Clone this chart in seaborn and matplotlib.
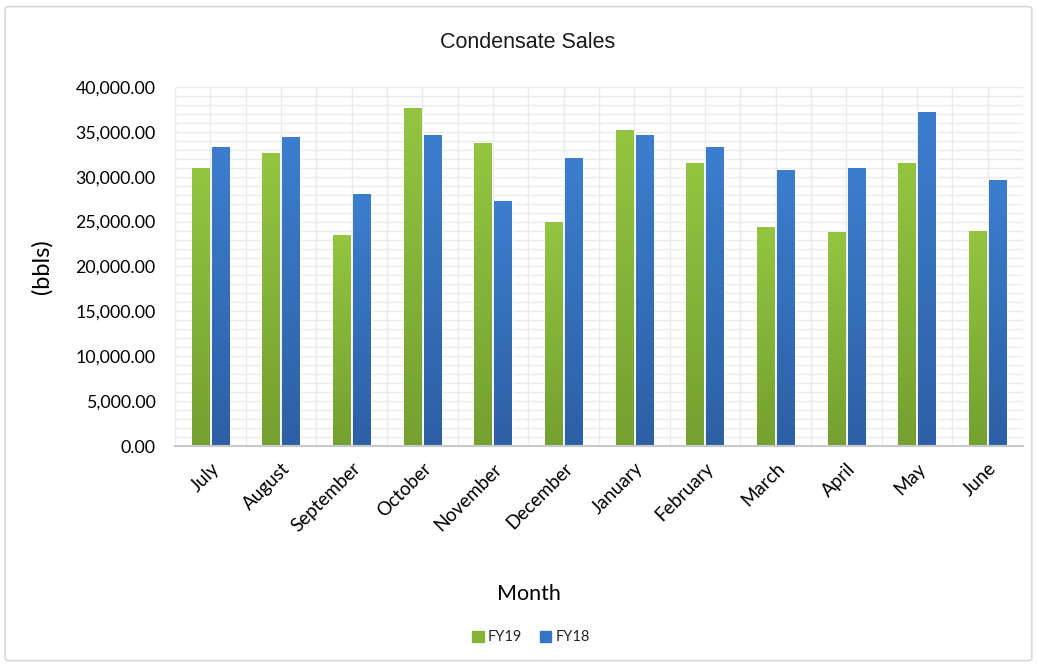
import numpy as np
import pandas as pd
import matplotlib
matplotlib.use("Agg")
import matplotlib.pyplot as plt
from matplotlib.patches import FancyBboxPatch
from matplotlib.ticker import MultipleLocator, FuncFormatter
from matplotlib.colors import LinearSegmentedColormap
import seaborn as sns

months = ["July", "August", "September", "October", "November", "December",
          "January", "February", "March", "April", "May", "June"]
fy19 = [30980, 32650, 23560, 37680, 33740, 24980,
        35250, 31570, 24440, 23810, 31490, 23920]
fy18 = [33330, 34430, 28080, 34650, 27350, 32070,
        34600, 33280, 30750, 30940, 37180, 29640]
series = ["FY19", "FY18"]
colors = {"FY19": "#86B53A", "FY18": "#3674C5"}
shades = {"FY19": ("#93C541", "#74A030"), "FY18": ("#3C7ECE", "#2D60A4")}

df = pd.DataFrame({
    "Month": months * 2,
    "Sales": fy19 + fy18,
    "Series": ["FY19"] * len(months) + ["FY18"] * len(months),
})

sns.set_theme(style="white")
base_font = ["Lato", "DejaVu Sans"]
plt.rcParams["font.family"] = base_font

fig = plt.figure(figsize=(10.37, 6.66), dpi=100)
ax = fig.add_axes([0.1688, 0.3303, 0.8177, 0.5391])

sns.barplot(data=df, x="Month", y="Sales", hue="Series", order=months,
            hue_order=series, palette=colors, width=0.56, gap=0.12,
            saturation=1, ax=ax, legend=True, zorder=3)

# vertical gradient fill inside every bar
for bar_container, name in zip(ax.containers, series):
    cmap = LinearSegmentedColormap.from_list(name, [shades[name][1], shades[name][0]])
    grad = np.linspace(0, 1, 256).reshape(-1, 1)
    for patch in bar_container.patches:
        x0, y0 = patch.get_x(), patch.get_y()
        w, h = patch.get_width(), patch.get_height()
        im = ax.imshow(grad, cmap=cmap, aspect="auto", origin="lower",
                       extent=[x0, x0 + w, y0, y0 + h], zorder=4,
                       interpolation="bilinear")
        im.set_clip_path(patch)

ax.set_xlim(-0.5, len(months) - 0.5)
ax.set_ylim(0, 40000)

# gridlines: horizontal every 1,000, vertical at category centres and edges
ax.yaxis.set_major_locator(MultipleLocator(5000))
ax.yaxis.set_minor_locator(MultipleLocator(1000))
ax.xaxis.set_minor_locator(MultipleLocator(0.5))
ax.set_axisbelow(True)
for h in np.arange(1000, 40001, 1000):
    ax.axhline(h, color="#EBEBEB", lw=1.0, zorder=0)
for v in np.arange(-0.5, len(months), 0.5):
    ax.axvline(v, color="#EBEBEB", lw=1.0, zorder=0)

ax.yaxis.set_major_formatter(FuncFormatter(lambda v, p: f"{v:,.2f}"))
ax.tick_params(axis="y", labelsize=12.8, colors="#000000", length=0, pad=14)
ax.tick_params(axis="x", labelsize=13.5, colors="#000000", length=0, pad=10)
plt.setp(ax.get_xticklabels(), rotation=45, ha="right", rotation_mode="anchor")

for side in ["top", "right", "left"]:
    ax.spines[side].set_visible(False)
ax.spines["bottom"].set_color("#C8C8C8")
ax.spines["bottom"].set_linewidth(1.5)
ax.spines["bottom"].set_zorder(5)

ax.set_xlabel("Month", fontsize=15.5, color="#000000")
ax.set_ylabel("(bbls)", fontsize=17, color="#000000")
ax.xaxis.set_label_coords(0.417, -0.383)
ax.yaxis.set_label_coords(-0.144, 0.5)

fig.text(0.509, 0.936, "Condensate Sales", ha="center", va="center",
         fontsize=15.5, color="#1A1A1A",
         family=["Liberation Sans Narrow", "Liberation Sans", "DejaVu Sans"])

ax.legend_.remove()
handles = [plt.Rectangle((0, 0), 1, 1, color=colors[s]) for s in series]
fig.legend(handles, series, loc="center", bbox_to_anchor=(0.512, 0.043),
           ncol=2, frameon=False, fontsize=10.5, handlelength=0.8,
           handleheight=0.8, handletextpad=0.3, columnspacing=1.2)

# outer chart frame
frame = FancyBboxPatch((0.005, 0.008), 0.99, 0.982,
                       boxstyle="round,pad=0,rounding_size=0.004",
                       transform=fig.transFigure, fill=False,
                       edgecolor="#D9D9D9", lw=1.2)
fig.patches.append(frame)

fig.savefig("out.png", dpi=100)
